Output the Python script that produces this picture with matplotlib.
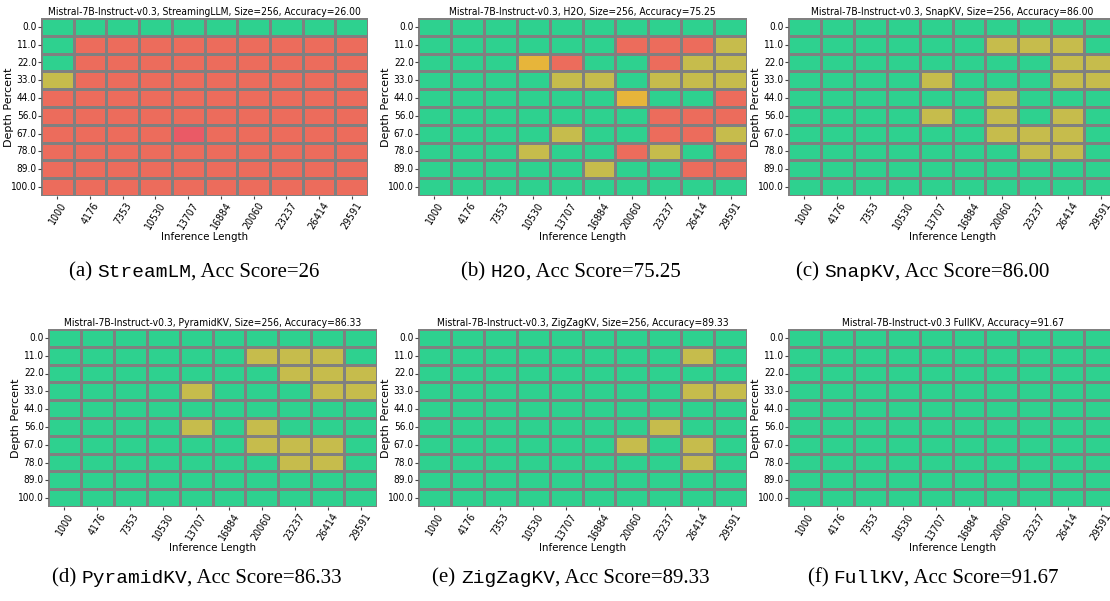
import matplotlib
matplotlib.use("Agg")
import matplotlib.pyplot as plt
from matplotlib import font_manager as fm
import numpy as np
import pandas as pd
import seaborn as sns
from matplotlib.colors import LinearSegmentedColormap
from matplotlib.offsetbox import TextArea, HPacker, AnnotationBbox

# ---------------------INPUT------------------------------------------
depths = [0.0, 11.0, 22.0, 33.0, 44.0, 56.0, 67.0, 78.0, 89.0, 100.0]
lengths = [1000, 4176, 7353, 10530, 13707, 16884, 20060, 23237, 26414, 29591]

# score per cell letter (0..10)
score = {"G": 10, "Y": 6, "O": 5, "R": 1, "P": 0}

streaming = ["GGGGGGGGGG", "GRRRRRRRRR", "GRRRRRRRRR", "YRRRRRRRRR", "RRRRRRRRRR",
             "RRRRRRRRRR", "RRRRPRRRRR", "RRRRRRRRRR", "RRRRRRRRRR", "RRRRRRRRRR"]
h2o = ["GGGGGGGGGG", "GGGGGGRRRY", "GGGORGGRYY", "GGGGYYGYYY", "GGGGGGOGGR",
       "GGGGGGGRRR", "GGGGYGGRRY", "GGGYGGRYGR", "GGGGGYGGRR", "GGGGGGGGGG"]
snapkv = ["GGGGGGGGGG", "GGGGGGYYYG", "GGGGGGGGYY", "GGGGYGGGYY", "GGGGGGYGGG",
          "GGGGYGYGYG", "GGGGGGYYYG", "GGGGGGGYYG", "GGGGGGGGGG", "GGGGGGGGGG"]
pyramidkv = ["GGGGGGGGGG", "GGGGGGYYYG", "GGGGGGGYYY", "GGGGYGGGYY", "GGGGGGGGGG",
             "GGGGYGYGGG", "GGGGGGYYYG", "GGGGGGGYYG", "GGGGGGGGGG", "GGGGGGGGGG"]
zigzagkv = ["GGGGGGGGGG", "GGGGGGGGYG", "GGGGGGGGGG", "GGGGGGGGYY", "GGGGGGGGGG",
            "GGGGGGGYGG", "GGGGGGYGYG", "GGGGGGGGYG", "GGGGGGGGGG", "GGGGGGGGGG"]
fullkv = ["GGGGGGGGGG"] * 10

titles = ["Mistral-7B-Instruct-v0.3, StreamingLLM, Size=256, Accuracy=26.00",
          "Mistral-7B-Instruct-v0.3, H2O, Size=256, Accuracy=75.25",
          "Mistral-7B-Instruct-v0.3, SnapKV, Size=256, Accuracy=86.00",
          "Mistral-7B-Instruct-v0.3, PyramidKV, Size=256, Accuracy=86.33",
          "Mistral-7B-Instruct-v0.3, ZigZagKV, Size=256, Accuracy=89.33",
          "Mistral-7B-Instruct-v0.3 FullKV, Accuracy=91.67"]
cap_labels = ["(a)", "(b)", "(c)", "(d)", "(e)", "(f)"]
cap_methods = ["StreamLM", "H2O", "SnapKV", "PyramidKV", "ZigZagKV", "FullKV"]
cap_scores = ["26", "75.25", "86.00", "86.33", "89.33", "91.67"]
# --------------------------------------------------------------------

grids = [streaming, h2o, snapkv, pyramidkv, zigzagkv, fullkv]

cmap = LinearSegmentedColormap.from_list(
    "needle", [(0.0, "#ea5a66"), (0.1, "#ec6c5c"), (0.5, "#e8b53a"),
               (0.6, "#c6bc4c"), (1.0, "#2ed18f")])


# look for a narrow sans font; the reference text is horizontally squeezed
def pick_font():
    for fam, st in [("Liberation Sans Narrow", "normal"), ("DejaVu Sans", "condensed")]:
        try:
            p = fm.findfont(fm.FontProperties(family=fam, stretch=st),
                            fallback_to_default=False)
        except Exception:
            continue
        if "Narrow" in p or "Condensed" in p:
            return dict(family=fam, stretch=st), 1.0
    return dict(family="Liberation Sans"), 0.8


tfont, k = pick_font()

# axes boxes in pixels: left, top, width, height
W, H = 1110, 601
boxes = [(41, 18, 327, 178), (418, 18, 329, 178), (788, 18, 329, 178),
         (48, 329, 329, 178), (418, 329, 329, 178), (788, 329, 329, 178)]
cap_pos = [(194, 272), (571, 272), (923, 272), (197, 578), (571, 578), (933, 578)]

fig = plt.figure(figsize=(W / 100, H / 100), dpi=100)

for i in range(6):
    l, t, w, h = boxes[i]
    ax = fig.add_axes([l / W, 1 - (t + h) / H, w / W, h / H])
    vals = np.array([[score[c] for c in row] for row in grids[i]], dtype=float)
    df = pd.DataFrame(vals, index=depths, columns=lengths)
    sns.heatmap(df, ax=ax, cmap=cmap, vmin=0, vmax=10, cbar=False,
                linewidths=1, linecolor="grey")
    ax.set_title(titles[i], fontsize=7.4 * k, pad=2.5, **tfont)
    ax.set_xlabel("Inference Length", fontsize=8.2 * k, labelpad=1, **tfont)
    ax.set_ylabel("Depth Percent", fontsize=8)
    ax.yaxis.set_label_coords(-0.083, 0.5)
    ax.set_xticklabels([str(v) for v in lengths], rotation=58, fontsize=7.6 * k, **tfont)
    ax.set_yticklabels([str(v) for v in depths], rotation=0, fontsize=7.2 * k, **tfont)
    ax.tick_params(length=2, pad=1, color="#444444")

    serif = dict(family="Liberation Serif", size=15)
    mono = dict(family="Liberation Mono", size=14)
    box = HPacker(children=[TextArea(cap_labels[i] + " ", textprops=serif),
                            TextArea(cap_methods[i], textprops=mono),
                            TextArea(", Acc Score=" + cap_scores[i], textprops=serif)],
                  align="baseline", pad=0, sep=0)
    x, y = cap_pos[i]
    ab = AnnotationBbox(box, (x / W, 1 - y / H), xycoords="figure fraction",
                        frameon=False, box_alignment=(0.5, 0.5))
    fig.add_artist(ab)

fig.savefig("out.png", dpi=100)
